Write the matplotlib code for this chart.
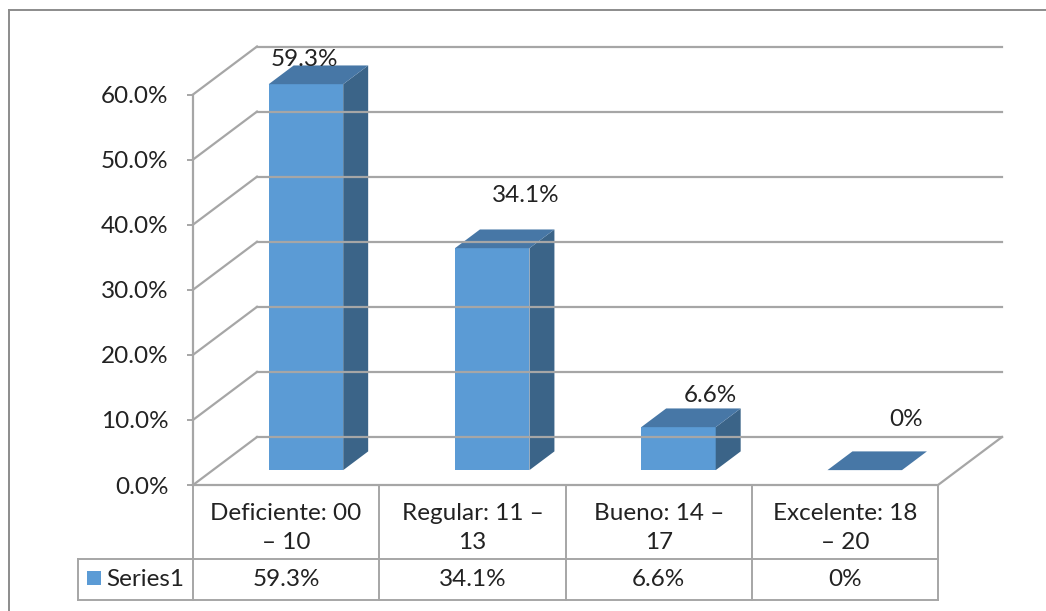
import matplotlib.pyplot as plt
import matplotlib.transforms as mtransforms
from matplotlib.patches import Polygon, Rectangle
from matplotlib.lines import Line2D

# data
categories = ['Deficiente: 00\n– 10', 'Regular: 11 –\n13', 'Bueno: 14 –\n17', 'Excelente: 18\n– 20']
values = [59.3, 34.1, 6.6, 0.0]
value_labels = ['59.3%', '34.1%', '6.6%', '0%']
series_name = 'Series1'
yticks = [0, 10, 20, 30, 40, 50, 60]

# label nudges (points) relative to the bar top
label_shift = [(-10, 11), (15, 31), (14, 16), (21, 30)]

W, H = 1046, 611
FS = 17.5
plt.rcParams['font.family'] = ['Lato', 'DejaVu Sans']
fig = plt.figure(figsize=(W / 100, H / 100), dpi=100)

# front plane of the 3d box
x0, x1, y0, y1 = 193, 938, 485, 94.5
ax = fig.add_axes([x0 / W, (H - y0) / H, (x1 - x0) / W, (y0 - y1) / H])
ax.set_xlim(0, 4)
ax.set_ylim(0, 60)
ax.patch.set_alpha(0)

grid = '#a6a6a6'
# depth offset of the back wall, in data units
DX = 64 / 186.25
DY = 48 / ((y0 - y1) / 60)

def proj(x, y, d):
    return (x + d * DX, y + d * DY)

# side wall diagonals and back wall gridlines
for t in yticks:
    ax.plot([0, DX], [t, t + DY], color=grid, lw=1.6, clip_on=False)
    ax.plot([DX, 4 + DX], [t + DY, t + DY], color=grid, lw=1.6, clip_on=False)
# floor outline
ax.plot([0, 4, 4 + DX], [0, 0, DY], color=grid, lw=1.6, clip_on=False)

# bars as 3d boxes
front = '#5b9bd5'
top_c = '#4777a6'
side_c = '#3b6488'
bw = 0.4
d0, d1 = 0.31, 0.70
for i, v in enumerate(values):
    xl, xr = i + 0.5 - bw / 2, i + 0.5 + bw / 2
    fr = [proj(xl, 0, d0), proj(xr, 0, d0), proj(xr, v, d0), proj(xl, v, d0)]
    sd = [proj(xr, 0, d0), proj(xr, 0, d1), proj(xr, v, d1), proj(xr, v, d0)]
    tp = [proj(xl, v, d0), proj(xr, v, d0), proj(xr, v, d1), proj(xl, v, d1)]
    for poly, c in ((fr, front), (sd, side_c), (tp, top_c)):
        ax.add_patch(Polygon(poly, closed=True, facecolor=c, edgecolor='none', clip_on=False))
    tx, ty = proj(i + 0.5, v, (d0 + d1) / 2)
    ax.annotate(value_labels[i], (tx, ty), xytext=label_shift[i], textcoords='offset points',
                ha='center', va='center', fontsize=FS, color='#222222', annotation_clip=False)

# y axis
ax.set_yticks(yticks)
ax.set_yticklabels(['{:.1f}%'.format(t) for t in yticks])
ax.tick_params(axis='y', direction='out', length=4.5, width=1.4, color=grid,
               labelsize=FS, labelcolor='#222222', pad=13)
ax.set_xticks([])
for s in ['top', 'right', 'bottom']:
    ax.spines[s].set_visible(False)
ax.spines['left'].set_color(grid)
ax.spines['left'].set_linewidth(1.6)

# data table below the floor: x in category units, y in pixels from the top
px = mtransforms.Affine2D().scale(1, -1).translate(0, H)
tr = mtransforms.blended_transform_factory(ax.transData, px)
row1, row2 = 559, 600
xl_cell = (78 - x0) / ((x1 - x0) / 4)
tab_kw = dict(color=grid, lw=1.4, transform=tr, clip_on=False)
for k in range(5):
    ax.add_line(Line2D([k, k], [y0, row2], **tab_kw))
ax.add_line(Line2D([xl_cell, 4], [row1, row1], **tab_kw))
ax.add_line(Line2D([xl_cell, 4], [row2, row2], **tab_kw))
ax.add_line(Line2D([xl_cell, xl_cell], [row1, row2], **tab_kw))
for i, cat in enumerate(categories):
    ax.text(i + 0.5, (y0 + row1) / 2 + 6, cat, transform=tr, ha='center', va='center',
            fontsize=FS, color='#222222', linespacing=1.5)
    ax.text(i + 0.5, (row1 + row2) / 2, value_labels[i], transform=tr, ha='center',
            va='center', fontsize=FS, color='#222222')
fig.add_artist(Rectangle((87, H - 585), 14, 14, transform=mtransforms.IdentityTransform(),
                         facecolor=front, edgecolor='none'))
fig.text(106 / W, 1 - 580 / H, series_name, ha='left', va='center', fontsize=FS, color='#222222')

# outer chart border
fig.add_artist(Line2D([9 / W, 1.0], [1 - 10 / H, 1 - 10 / H], color='#8c8c8c', lw=1.4))
fig.add_artist(Line2D([9 / W, 9 / W], [1 - 10 / H, 0], color='#8c8c8c', lw=1.4))

fig.savefig('out.png', dpi=100)
